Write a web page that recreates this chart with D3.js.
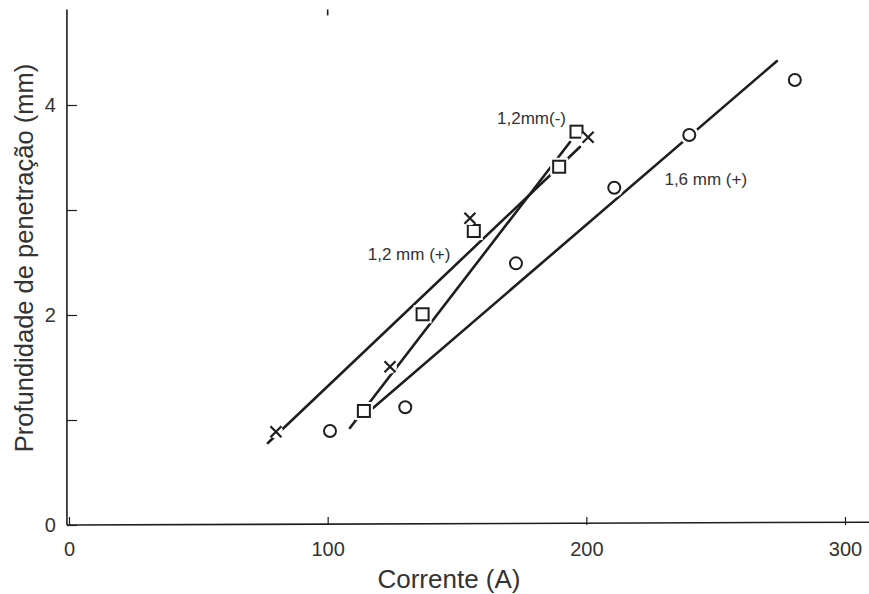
<!DOCTYPE html>
<html>
<head>
<meta charset="utf-8">
<script src="https://cdn.jsdelivr.net/npm/d3@7"></script>
<style>
  html, body { margin: 0; padding: 0; background: #fff; }
  svg { display: block; }
  text { font-family: "Liberation Sans", Arial, Helvetica, sans-serif; fill: #333; }
</style>
</head>
<body>
<svg id="chart" width="869" height="594"></svg>
<script>
// ---- data ----
const xTicks = [0, 100, 200, 300];
const yTicks = [0, 1, 2, 3, 4];
const yTickLabels = ["0", "", "2", "", "4"];

// electrode 1,2 mm (+)  : crosses
const crossX = [80.0, 124.1, 155.0, 200.7];
const crossY = [0.889, 1.508, 2.921, 3.692];
// electrode 1,2 mm (-)  : squares
const squareX = [114.0, 136.7, 156.5, 189.5, 196.2];
const squareY = [1.086, 2.007, 2.800, 3.412, 3.746];
// electrode 1,6 mm (+)  : circles
const circleX = [100.9, 130.0, 172.8, 210.8, 239.8, 280.6];
const circleY = [0.895, 1.121, 2.492, 3.212, 3.714, 4.238];

// fitted lines (start / end in data units)
const lineNames = ["1,2 mm (+)", "1,2mm(-)", "1,6 mm (+)"];
const lineX0 = [76.9, 108.6, 117.1];
const lineY0 = [0.781, 0.924, 1.105];
const lineX1 = [197.5, 193.7, 273.7];
const lineY1 = [3.600, 3.648, 4.419];

// label anchors (data units)
const labelX = [115.5, 165.5, 230.2];
const labelY = [2.52, 3.82, 3.24];

const xTitle = "Corrente (A)";
const yTitle = "Profundidade de penetração (mm)";

// ---- scales ----
const svg = d3.select("#chart");
const x = d3.scaleLinear().domain([0, 300]).range([69, 845]);
const y = d3.scaleLinear().domain([0, 4]).range([525, 105]);
const xAxisEnd = 330, yAxisTop = 4.91;
const ink = "#1e1e1e";

// ---- axes ----
const gx = svg.append("g").attr("transform", `translate(0,${y(0)})`)
  .call(d3.axisBottom(x).tickValues(xTicks).tickSize(-8).tickPadding(17).tickFormat(d3.format("d")));
gx.select(".domain").remove();
gx.selectAll(".tick line").attr("stroke", ink).attr("stroke-width", 1.2);
gx.selectAll(".tick text").attr("font-size", 20).attr("fill", "#333");

const gy = svg.append("g").attr("transform", `translate(${x(-0.8)},0)`)
  .call(d3.axisLeft(y).tickValues(yTicks).tickSize(-10).tickPadding(11).tickFormat((d, i) => yTickLabels[i]));
gy.select(".domain").remove();
gy.selectAll(".tick line").attr("stroke", ink).attr("stroke-width", 1.2);
gy.selectAll(".tick text").attr("font-size", 20).attr("fill", "#333");

// axis lines
svg.append("line").attr("x1", x(-0.8)).attr("x2", x(xAxisEnd))
  .attr("y1", y(0)).attr("y2", y(0) - 3).attr("stroke", ink).attr("stroke-width", 1.6);
svg.append("line").attr("x1", x(-0.8)).attr("x2", x(-0.8))
  .attr("y1", y(0)).attr("y2", y(yAxisTop)).attr("stroke", ink).attr("stroke-width", 1.6);
// small stray top tick at 100
svg.append("line").attr("x1", x(100)).attr("x2", x(100))
  .attr("y1", y(yAxisTop)).attr("y2", y(yAxisTop) + 6).attr("stroke", ink).attr("stroke-width", 1.6);

// ---- fitted lines ----
const lines = lineNames.map((n, i) => ({ n, x0: lineX0[i], y0: lineY0[i], x1: lineX1[i], y1: lineY1[i] }));
svg.append("g").selectAll("line").data(lines).join("line")
  .attr("x1", d => x(d.x0)).attr("y1", d => y(d.y0))
  .attr("x2", d => x(d.x1)).attr("y2", d => y(d.y1))
  .attr("stroke", ink).attr("stroke-width", 2.6).attr("stroke-linecap", "round");

// ---- markers (white halo makes gaps in lines) ----
const crosses = crossX.map((v, i) => ({ x: v, y: crossY[i] }));
const squares = squareX.map((v, i) => ({ x: v, y: squareY[i] }));
const circles = circleX.map((v, i) => ({ x: v, y: circleY[i] }));

const mk = svg.append("g");
// circles
mk.selectAll("circle.halo").data(circles).join("circle")
  .attr("cx", d => x(d.x)).attr("cy", d => y(d.y)).attr("r", 6)
  .attr("fill", "#fff").attr("stroke", "#fff").attr("stroke-width", 7);
mk.selectAll("circle.m").data(circles).join("circle")
  .attr("cx", d => x(d.x)).attr("cy", d => y(d.y)).attr("r", 6)
  .attr("fill", "#fff").attr("stroke", ink).attr("stroke-width", 2);
// squares
const sq = 12;
mk.selectAll("rect.halo").data(squares).join("rect")
  .attr("x", d => x(d.x) - sq / 2).attr("y", d => y(d.y) - sq / 2)
  .attr("width", sq).attr("height", sq)
  .attr("fill", "#fff").attr("stroke", "#fff").attr("stroke-width", 6);
mk.selectAll("rect.m").data(squares).join("rect")
  .attr("x", d => x(d.x) - sq / 2).attr("y", d => y(d.y) - sq / 2)
  .attr("width", sq).attr("height", sq)
  .attr("fill", "#fff").attr("stroke", ink).attr("stroke-width", 2);
// crosses
const cs = 5.5;
const crossPath = d => {
  const cx = x(d.x), cy = y(d.y);
  return `M${cx - cs},${cy - cs}L${cx + cs},${cy + cs}M${cx - cs},${cy + cs}L${cx + cs},${cy - cs}`;
};
mk.selectAll("circle.xhalo").data(crosses).join("circle")
  .attr("cx", d => x(d.x)).attr("cy", d => y(d.y)).attr("r", 7).attr("fill", "#fff");
mk.selectAll("path.m").data(crosses).join("path")
  .attr("d", crossPath).attr("stroke", ink).attr("stroke-width", 2.2).attr("fill", "none");

// ---- line labels ----
svg.append("g").selectAll("text").data(lineNames).join("text")
  .attr("x", (d, i) => x(labelX[i])).attr("y", (d, i) => y(labelY[i]))
  .attr("font-size", 17).attr("fill", "#333").text(d => d);

// ---- axis titles ----
svg.append("text").attr("x", 449).attr("y", 588).attr("text-anchor", "middle")
  .attr("font-size", 26).text(xTitle);
svg.append("text").attr("transform", "translate(33,258) rotate(-90)")
  .attr("text-anchor", "middle").attr("font-size", 25.5).text(yTitle);
</script>
</body>
</html>
